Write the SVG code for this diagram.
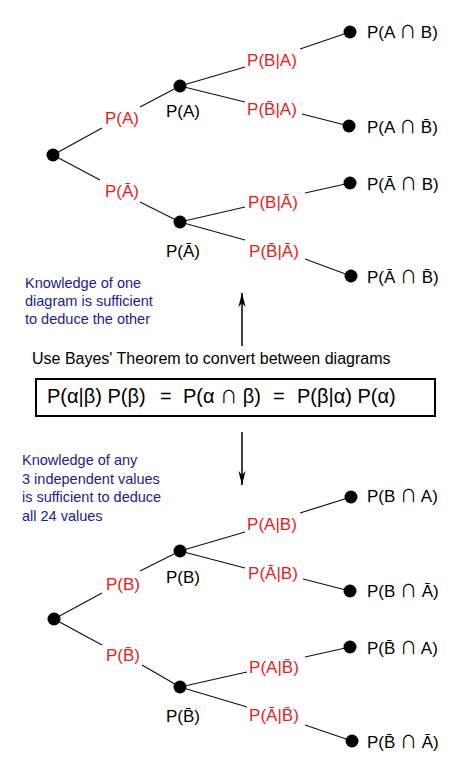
<svg xmlns="http://www.w3.org/2000/svg" width="470" height="776" viewBox="0 0 470 776">
<style>
text{font-family:"Liberation Sans",Arial,sans-serif}
.c{font-family:"Noto Sans CJK SC","DejaVu Sans",sans-serif}
.cf{font-family:"Noto Sans CJK SC","DejaVu Sans",sans-serif;font-size:17px}
.e{stroke:#111;stroke-width:1.2;fill:none}
.d{fill:#000}
.r{fill:#e81c1c;font-size:17px;text-anchor:middle}
.k{fill:#000;font-size:17px;text-anchor:middle}
.lf{fill:#000;font-size:17px}
.b{fill:#1b1b8f;font-size:14.5px}
.t{fill:#000;font-size:16px}
.f{fill:#000;font-size:20px}
</style>
<defs>
<marker id="ah" markerUnits="userSpaceOnUse" orient="auto" refX="0" refY="0" markerWidth="20" markerHeight="20" overflow="visible">
<path d="M0,0 L-14,-3.6 L-10,0 L-14,3.6 Z" fill="#000"/>
</marker>
</defs>
<g id="connectors">
<path class="e" d="M53,155 L102,128 M140,107 L180,86"/>
<path class="e" d="M180,86 L245,67 M300,49 L350,32"/>
<path class="e" d="M180,86 L245,102 M302,114 L349,126"/>
<path class="e" d="M53,155 L100,180 M140,202 L180,222"/>
<path class="e" d="M180,222 L245,207 M305,193 L350,183"/>
<path class="e" d="M180,222 L245,240 M305,259 L351,276"/>
<path class="e" d="M54,619 L102,593 M140,571 L180,551"/>
<path class="e" d="M180,551 L245,532 M300,513 L351,497"/>
<path class="e" d="M180,551 L245,568 M303,579 L350,591"/>
<path class="e" d="M54,619 L102,645 M142,665 L180,687"/>
<path class="e" d="M180,687 L247,672 M305,657 L350,647"/>
<path class="e" d="M180,687 L247,707 M305,725 L352,741"/>
<line x1="242" y1="346" x2="242" y2="293" stroke="#000" stroke-width="1.5" marker-end="url(#ah)"/>
<line x1="242" y1="432" x2="242" y2="485" stroke="#000" stroke-width="1.5" marker-end="url(#ah)"/>
</g>
<g id="tree1">
<g id="n-root1"><circle class="d" cx="53" cy="155" r="6.5"/></g>
<g id="n-A"><circle class="d" cx="180" cy="86" r="6.5"/><text class="k" x="183" y="117">P(A)</text></g>
<g id="n-notA"><circle class="d" cx="180" cy="222" r="6.5"/><text class="k" x="183" y="257">P(Ā)</text></g>
<g id="n-AB"><circle class="d" cx="350" cy="32" r="6.5"/><text class="lf" x="367" y="38">P(A <tspan class="c">∩</tspan> B)</text></g>
<g id="n-AnB"><circle class="d" cx="349" cy="126" r="6.5"/><text class="lf" x="367" y="133">P(A <tspan class="c">∩</tspan> B̄)</text></g>
<g id="n-nAB"><circle class="d" cx="350" cy="183" r="6.5"/><text class="lf" x="367" y="190">P(Ā <tspan class="c">∩</tspan> B)</text></g>
<g id="n-nAnB"><circle class="d" cx="351" cy="276" r="6.5"/><text class="lf" x="367" y="283">P(Ā <tspan class="c">∩</tspan> B̄)</text></g>
<text class="r" x="122" y="124">P(A)</text>
<text class="r" x="122" y="197">P(Ā)</text>
<text class="r" x="272" y="66">P(B|A)</text>
<text class="r" x="272" y="115">P(B̄|A)</text>
<text class="r" x="273" y="208">P(B|Ā)</text>
<text class="r" x="274" y="257">P(B̄|Ā)</text>
</g>
<g id="note1">
<text class="b" x="25" y="288">Knowledge of one</text>
<text class="b" x="25" y="306">diagram is sufficient</text>
<text class="b" x="25" y="324">to deduce the other</text>
</g>
<g id="bayes">
<text class="t" x="32" y="364">Use Bayes' Theorem to convert between diagrams</text>
<rect x="36" y="379" width="399" height="37" fill="#fff" stroke="#000" stroke-width="2"/>
<text class="f" y="403"><tspan x="47">P(α|β) P(β)</tspan><tspan x="160">=</tspan><tspan x="183">P(α <tspan class="cf">∩</tspan> β)</tspan><tspan x="273">=</tspan><tspan x="297">P(β|α) P(α)</tspan></text>
</g>
<g id="note2">
<text class="b" x="22" y="465">Knowledge of any</text>
<text class="b" x="22" y="483.5">3 independent values</text>
<text class="b" x="22" y="502">is sufficient to deduce</text>
<text class="b" x="22" y="520.5">all 24 values</text>
</g>
<g id="tree2">
<g id="n-root2"><circle class="d" cx="54" cy="619" r="6.5"/></g>
<g id="n-B"><circle class="d" cx="180" cy="551" r="6.5"/><text class="k" x="183" y="583">P(B)</text></g>
<g id="n-notB"><circle class="d" cx="180" cy="687" r="6.5"/><text class="k" x="183" y="722">P(B̄)</text></g>
<g id="n-BA"><circle class="d" cx="351" cy="497" r="6.5"/><text class="lf" x="367" y="502">P(B <tspan class="c">∩</tspan> A)</text></g>
<g id="n-BnA"><circle class="d" cx="350" cy="591" r="6.5"/><text class="lf" x="367" y="597">P(B <tspan class="c">∩</tspan> Ā)</text></g>
<g id="n-nBA"><circle class="d" cx="350" cy="647" r="6.5"/><text class="lf" x="367" y="654">P(B̄ <tspan class="c">∩</tspan> A)</text></g>
<g id="n-nBnA"><circle class="d" cx="352" cy="741" r="6.5"/><text class="lf" x="367" y="748">P(B̄ <tspan class="c">∩</tspan> Ā)</text></g>
<text class="r" x="123" y="590">P(B)</text>
<text class="r" x="123" y="661">P(B̄)</text>
<text class="r" x="272" y="530">P(A|B)</text>
<text class="r" x="273" y="579">P(Ā|B)</text>
<text class="r" x="274" y="673">P(A|B̄)</text>
<text class="r" x="274" y="721">P(Ā|B̄)</text>
</g>
</svg>
